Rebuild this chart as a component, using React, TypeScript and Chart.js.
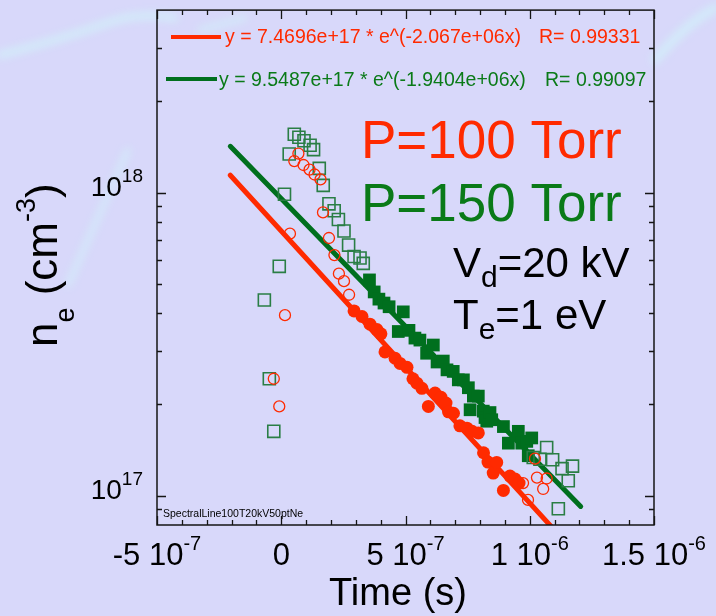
import React, { useEffect, useRef } from 'react';
import { Chart, registerables } from 'chart.js';

Chart.register(...registerables);

const FONT = '"Liberation Sans", Arial, Helvetica, sans-serif';

// ---- data (time in microseconds, density in cm^-3) ----
// P = 100 Torr, points used in the fit (filled circles)
const red100FitTimeUs = [0.293, 0.325, 0.357, 0.385, 0.401, 0.4175, 0.458, 0.478, 0.506, 0.530, 0.546, 0.566, 0.592, 0.619, 0.643, 0.663, 0.673, 0.693, 0.719, 0.7475, 0.768, 0.793, 0.814, 0.832, 0.853, 0.867, 0.894, 0.9205, 0.941, 0.957];
const red100FitNe = [4.07e17, 3.9e17, 3.68e17, 3.53e17, 3.42e17, 2.98e17, 2.84e17, 2.73e17, 2.65e17, 2.43e17, 2.35e17, 2.26e17, 1.97e17, 2.18e17, 2.11e17, 2.02e17, 1.89e17, 1.87e17, 1.70e17, 1.67e17, 1.63e17, 1.61e17, 1.385e17, 1.29e17, 1.187e17, 1.287e17, 1.04e17, 1.16e17, 1.134e17, 1.10e17];
// P = 100 Torr, other points (open circles)
const red100OtherTimeUs = [-0.030, -0.008, 0.015, 0.035, 0.0525, 0.069, 0.0895, 0.114, 0.134, 0.158, 0.168, 0.192, 0.214, 0.232, 0.2525, 0.273, 0.973, 0.993, 1.021, 1.029, 1.054, 1.068];
const red100OtherNe = [2.43e17, 1.97e17, 3.94e17, 7.32e17, 1.27e18, 1.345e18, 1.233e18, 1.191e18, 1.147e18, 1.105e18, 8.6e17, 7.08e17, 6.22e17, 5.4e17, 5.1e17, 4.6e17, 1.10e17, 9.68e16, 1.324e17, 1.147e17, 1.052e17, 1.139e17];
// P = 150 Torr, points used in the fit (filled squares)
const green150FitTimeUs = [0.355, 0.374, 0.393, 0.4135, 0.434, 0.471, 0.491, 0.514, 0.538, 0.558, 0.585, 0.612, 0.627, 0.652, 0.667, 0.692, 0.7125, 0.733, 0.753, 0.760, 0.773, 0.793, 0.813, 0.82, 0.827, 0.84, 0.847, 0.894, 0.914, 0.954, 0.968, 0.988, 0.994, 1.008];
const green150FitNe = [5.15e17, 4.70e17, 4.45e17, 4.32e17, 4.20e17, 3.48e17, 4.04e17, 3.51e17, 3.31e17, 3.26e17, 2.95e17, 3.14e17, 2.76e17, 2.78e17, 2.60e17, 2.57e17, 2.41e17, 2.41e17, 2.27e17, 1.92e17, 2.13e17, 2.13e17, 1.90e17, 1.81e17, 1.76e17, 1.88e17, 1.78e17, 1.69e17, 1.49e17, 1.63e17, 1.49e17, 1.51e17, 1.354e17, 1.55e17];
// P = 150 Torr, other points (open squares)
const green150OtherTimeUs = [-0.068, -0.048, -0.030, -0.008, 0.013, 0.032, 0.0525, 0.071, 0.0915, 0.116, 0.130, 0.153, 0.169, 0.192, 0.213, 0.230, 0.2525, 0.271, 0.293, 0.317, 0.330, 1.014, 1.041, 1.068, 1.092, 1.115, 1.130, 1.155, 1.172];
const green150OtherNe = [4.42e17, 2.43e17, 1.63e17, 5.71e17, 9.87e17, 1.34e18, 1.557e18, 1.522e18, 1.483e18, 1.433e18, 1.386e18, 1.202e18, 1.056e18, 9.18e17, 8.71e17, 8.15e17, 7.47e17, 6.71e17, 6.15e17, 6.08e17, 5.84e17, 1.336e17, 1.318e17, 1.441e17, 1.314e17, 9.05e16, 1.228e17, 1.12e17, 1.251e17];

// exponential fits (from legend) and the time span over which they are drawn (s)
const redFitA = 7.4696e17;
const redFitB = -2.067e6;
const redFitR = '0.99331';
const redFitSpan = [-2.05e-7, 1.09e-6];
const greenFitA = 9.5487e17;
const greenFitB = -1.9404e6;
const greenFitR = '0.99097';
const greenFitSpan = [-2.05e-7, 1.205e-6];

// axes
const xMin = -5e-7;
const xMax = 1.5e-6;
const yMin = 8e16;
const yMax = 4e18;
const xMajorTicks = [-5e-7, 0, 5e-7, 1e-6, 1.5e-6];
const xTickMantissa = ['-5', '0', '5', '1', '1.5'];
const xTickExponent = ['-7', '', '-7', '-6', '-6'];
const xMinorTicks = [-4e-7, -3e-7, -2e-7, -1e-7, 1e-7, 2e-7, 3e-7, 4e-7, 6e-7, 7e-7, 8e-7, 9e-7, 1.1e-6, 1.2e-6, 1.3e-6, 1.4e-6];
const yMajorTicks = [1e17, 1e18];
const yTickExponent = ['17', '18'];
const yMinorTicks = [9e16, 2e17, 3e17, 4e17, 5e17, 6e17, 7e17, 8e17, 9e17, 2e18, 3e18];

const RED = '#FF2A00';
const GREEN = '#006F1E';
const GREEN_TEXT = '#0A7A18';
const GREEN_OPEN = '#2A7E45';
const BG = '#D8D8FA';

const toPts = (xs: number[], ys: number[]) => xs.map((x, i) => ({ x: x * 1e-6, y: ys[i] }));
const fitPts = (a: number, b: number, span: number[]) => span.map((x) => ({ x, y: a * Math.exp(b * x) }));

type Run = { t: string; size: number; dy: number };

function drawRuns(ctx: CanvasRenderingContext2D, runs: Run[], x: number, y: number, align: 'left' | 'center' | 'right') {
  const widths = runs.map((r) => {
    ctx.font = `${r.size}px ${FONT}`;
    return ctx.measureText(r.t).width;
  });
  const total = widths.reduce((s, w) => s + w, 0);
  let cx = align === 'left' ? x : align === 'center' ? x - total / 2 : x - total;
  ctx.textAlign = 'left';
  ctx.textBaseline = 'alphabetic';
  runs.forEach((r, i) => {
    ctx.font = `${r.size}px ${FONT}`;
    ctx.fillText(r.t, cx, y + r.dy);
    cx += widths[i];
  });
}

const decor = {
  id: 'decor',
  beforeDraw(chart: any) {
    const { ctx, width, height } = chart;
    ctx.save();
    ctx.fillStyle = BG;
    ctx.fillRect(0, 0, width, height);
    // faint glow streaks of the background
    ctx.filter = 'blur(4px)';
    ctx.strokeStyle = 'rgba(205,255,250,0.55)';
    ctx.lineCap = 'round';
    ctx.lineWidth = 7;
    ctx.beginPath();
    ctx.moveTo(0, 55);
    ctx.quadraticCurveTo(60, 40, 110, 22);
    ctx.quadraticCurveTo(140, 12, 175, 18);
    ctx.stroke();
    ctx.lineWidth = 5;
    ctx.beginPath();
    ctx.moveTo(68, 285);
    ctx.lineTo(128, 150);
    ctx.stroke();
    ctx.beginPath();
    ctx.moveTo(200, 30);
    ctx.lineTo(245, 18);
    ctx.stroke();
    ctx.lineWidth = 8;
    ctx.beginPath();
    ctx.moveTo(655, 60);
    ctx.quadraticCurveTo(690, 20, 716, 8);
    ctx.stroke();
    ctx.restore();
  },
  afterDraw(chart: any) {
    const { ctx, chartArea: a, scales } = chart;
    const xs = scales.x;
    const ys = scales.y;
    ctx.save();
    // frame
    ctx.strokeStyle = '#151515';
    ctx.lineWidth = 1.5;
    ctx.strokeRect(a.left, a.top, a.right - a.left, a.bottom - a.top);
    ctx.lineWidth = 1.3;
    ctx.beginPath();
    const tickX = (v: number, len: number) => {
      const p = Math.round(xs.getPixelForValue(v)) + 0.5;
      ctx.moveTo(p, a.bottom);
      ctx.lineTo(p, a.bottom - len);
      ctx.moveTo(p, a.top);
      ctx.lineTo(p, a.top + len);
    };
    const tickY = (v: number, len: number) => {
      const p = Math.round(ys.getPixelForValue(v)) + 0.5;
      ctx.moveTo(a.left, p);
      ctx.lineTo(a.left + len, p);
      ctx.moveTo(a.right, p);
      ctx.lineTo(a.right - len, p);
    };
    xMajorTicks.forEach((v) => tickX(v, 9));
    xMinorTicks.forEach((v) => tickX(v, 5));
    yMajorTicks.forEach((v) => tickY(v, 9));
    yMinorTicks.forEach((v) => tickY(v, 5));
    ctx.stroke();

    ctx.fillStyle = '#000';
    // x tick labels
    xMajorTicks.forEach((v, i) => {
      const px = xs.getPixelForValue(v);
      const runs: Run[] = xTickExponent[i]
        ? [
            { t: `${xTickMantissa[i]} 10`, size: 31, dy: 0 },
            { t: xTickExponent[i], size: 20, dy: -15 },
          ]
        : [{ t: xTickMantissa[i], size: 31, dy: 0 }];
      drawRuns(ctx, runs, px, 565, 'center');
    });
    // y tick labels
    yMajorTicks.forEach((v, i) => {
      const py = ys.getPixelForValue(v);
      drawRuns(
        ctx,
        [
          { t: '10', size: 28, dy: 0 },
          { t: yTickExponent[i], size: 19, dy: -14 },
        ],
        143,
        py + 3,
        'right'
      );
    });
    // axis titles
    drawRuns(ctx, [{ t: 'Time (s)', size: 38, dy: 0 }], 398, 605, 'center');
    ctx.save();
    ctx.translate(57, 347);
    ctx.rotate(-Math.PI / 2);
    drawRuns(
      ctx,
      [
        { t: 'n', size: 44, dy: 0 },
        { t: 'e', size: 27, dy: 17 },
        { t: ' (cm', size: 44, dy: 0 },
        { t: '-3', size: 27, dy: -22 },
        { t: ')', size: 44, dy: 0 },
      ],
      0,
      0,
      'left'
    );
    ctx.restore();

    // fit legend
    ctx.lineCap = 'butt';
    ctx.lineWidth = 4;
    ctx.strokeStyle = RED;
    ctx.beginPath();
    ctx.moveTo(171, 37);
    ctx.lineTo(221, 37);
    ctx.stroke();
    ctx.strokeStyle = GREEN;
    ctx.beginPath();
    ctx.moveTo(166, 79);
    ctx.lineTo(217, 79);
    ctx.stroke();
    ctx.fillStyle = RED;
    drawRuns(ctx, [{ t: `y = ${redFitA.toExponential(4).replace('e+', 'e+')} * e^(${redFitB.toExponential(3).replace('e+6', 'e+06')}x)`, size: 19.5, dy: 0 }], 225, 43, 'left');
    drawRuns(ctx, [{ t: `R= ${redFitR}`, size: 19.5, dy: 0 }], 539, 43, 'left');
    ctx.fillStyle = GREEN_TEXT;
    drawRuns(ctx, [{ t: `y = ${greenFitA.toExponential(4)} * e^(${greenFitB.toExponential(4).replace('e+6', 'e+06')}x)`, size: 19.5, dy: 0 }], 219, 86, 'left');
    drawRuns(ctx, [{ t: `R= ${greenFitR}`, size: 19.5, dy: 0 }], 545, 86, 'left');

    // annotations
    ctx.fillStyle = RED;
    drawRuns(ctx, [{ t: 'P=100 Torr', size: 53, dy: 0 }], 361, 158, 'left');
    ctx.fillStyle = GREEN_TEXT;
    drawRuns(ctx, [{ t: 'P=150 Torr', size: 53, dy: 0 }], 361, 221, 'left');
    ctx.fillStyle = '#000';
    drawRuns(
      ctx,
      [
        { t: 'V', size: 42, dy: 0 },
        { t: 'd', size: 30, dy: 10 },
        { t: '=20 kV', size: 42, dy: 0 },
      ],
      453,
      277,
      'left'
    );
    drawRuns(
      ctx,
      [
        { t: 'T', size: 42, dy: 0 },
        { t: 'e', size: 30, dy: 10 },
        { t: '=1 eV', size: 42, dy: 0 },
      ],
      453,
      328.5,
      'left'
    );
    drawRuns(ctx, [{ t: 'SpectralLine100T20kV50ptNe', size: 10.5, dy: 0 }], 163, 517, 'left');
    ctx.restore();
  },
};

export default function App() {
  const ref = useRef<HTMLCanvasElement | null>(null);
  useEffect(() => {
    if (!ref.current) return;
    const chart = new Chart(ref.current, {
      type: 'scatter',
      data: {
        datasets: [
          {
            label: 'fit 100 Torr',
            data: fitPts(redFitA, redFitB, redFitSpan),
            showLine: true,
            borderColor: RED,
            borderWidth: 5,
            borderCapStyle: 'round',
            pointRadius: 0,
            order: 4,
            clip: 0,
          } as any,
          {
            label: 'fit 150 Torr',
            data: fitPts(greenFitA, greenFitB, greenFitSpan),
            showLine: true,
            borderColor: GREEN,
            borderWidth: 5,
            borderCapStyle: 'round',
            pointRadius: 0,
            order: 4,
            clip: 0,
          } as any,
          {
            label: '100 Torr (fit)',
            data: toPts(red100FitTimeUs, red100FitNe),
            pointStyle: 'circle',
            pointRadius: 6.5,
            backgroundColor: RED,
            borderColor: RED,
            borderWidth: 0,
            order: 3,
          },
          {
            label: '150 Torr (fit)',
            data: toPts(green150FitTimeUs, green150FitNe),
            pointStyle: 'rect',
            pointRadius: 9,
            backgroundColor: GREEN,
            borderColor: GREEN,
            borderWidth: 0,
            order: 3,
          },
          {
            label: '100 Torr',
            data: toPts(red100OtherTimeUs, red100OtherNe),
            pointStyle: 'circle',
            pointRadius: 5.5,
            backgroundColor: 'rgba(0,0,0,0)',
            borderColor: RED,
            borderWidth: 1.3,
            order: 1,
          },
          {
            label: '150 Torr',
            data: toPts(green150OtherTimeUs, green150OtherNe),
            pointStyle: 'rect',
            pointRadius: 8.5,
            backgroundColor: 'rgba(0,0,0,0)',
            borderColor: GREEN_OPEN,
            borderWidth: 1.6,
            order: 2,
          },
        ],
      },
      options: {
        animation: false,
        responsive: false,
        devicePixelRatio: 1,
        events: [],
        layout: { padding: { left: 157, right: 62, top: 10, bottom: 91 } },
        plugins: { legend: { display: false }, tooltip: { enabled: false } },
        scales: {
          x: { type: 'linear', min: xMin, max: xMax, display: false },
          y: { type: 'logarithmic', min: yMin, max: yMax, display: false },
        },
      },
      plugins: [decor],
    });
    return () => chart.destroy();
  }, []);
  return (
    <div style={{ position: 'absolute', left: 0, top: 0, width: 716, height: 616 }}>
      <canvas ref={ref} width={716} height={616} style={{ display: 'block' }} />
    </div>
  );
}
